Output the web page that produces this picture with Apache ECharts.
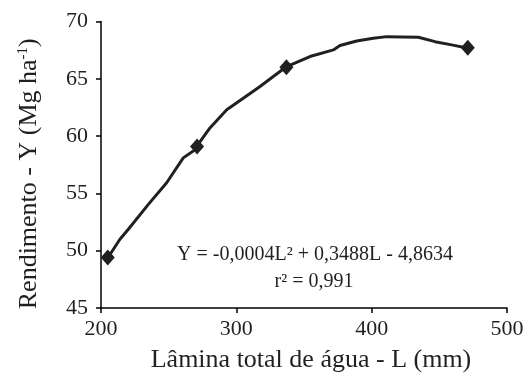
<!DOCTYPE html>
<html>
<head>
<meta charset="utf-8">
<script src="https://cdn.jsdelivr.net/npm/echarts@6/dist/echarts.min.js"></script>
<style>html,body{margin:0;padding:0;background:#fff;}#c{width:529px;height:378px;}</style>
</head>
<body>
<div id="c"></div>
<script>
// Observed points
const obsL = [205, 271, 337, 471];
const obsY = [49.4, 59.1, 66.0, 67.7];
// Fitted curve
const curveL = [204.7, 214.0, 220.2, 235.0, 248.5, 260.8, 269.5, 270.7, 280.5, 292.9, 305.1, 317.5, 327.3, 337.2, 354.4, 371.7, 376.6, 388.9, 401.2, 411.1, 434.5, 446.8, 459.1, 471.4];
const curveY = [49.32, 51.0, 51.87, 54.04, 55.93, 58.1, 58.8, 59.11, 60.71, 62.3, 63.3, 64.33, 65.2, 66.07, 66.94, 67.52, 67.9, 68.3, 68.54, 68.68, 68.63, 68.24, 67.96, 67.67];
const xTicks = [200, 300, 400, 500];
const yTicks = [45, 50, 55, 60, 65, 70];
const eqText = 'Y = -0,0004L² + 0,3488L - 4,8634';
const r2Text = 'r² = 0,991';
const xTitle = 'Lâmina total de água - L (mm)';

const FONT = '"Liberation Serif", "Times New Roman", serif';
const INK = '#231f20';
const chart = echarts.init(document.getElementById('c'), null, {renderer: 'canvas'});
const axisCommon = {
  axisLine: {show: true, lineStyle: {color: '#000', width: 1.5}},
  axisTick: {show: true, inside: false, length: 5, lineStyle: {color: '#000', width: 1.5}},
  splitLine: {show: false},
  axisLabel: {color: INK, fontFamily: FONT, fontSize: 22},
  nameTextStyle: {color: INK, fontFamily: FONT, fontSize: 26},
};
chart.setOption({
  animation: false,
  backgroundColor: '#fff',
  grid: {left: 101, right: 22, top: 21.5, bottom: 69, containLabel: false},
  xAxis: Object.assign({}, axisCommon, {
    type: 'value', min: xTicks[0], max: xTicks[xTicks.length - 1], interval: 100,
    name: xTitle, nameLocation: 'middle', nameGap: 39,
    nameTextStyle: Object.assign({}, axisCommon.nameTextStyle, {padding: [0, 0, 0, 14]}),
    axisLabel: Object.assign({}, axisCommon.axisLabel, {margin: 10})
  }),
  yAxis: Object.assign({}, axisCommon, {
    type: 'value', min: yTicks[0], max: yTicks[yTicks.length - 1], interval: 5,
    name: 'Rendimento - Y (Mg ha{sup|-1})', nameLocation: 'middle', nameGap: 59, nameRotate: 90,
    nameTextStyle: Object.assign({}, axisCommon.nameTextStyle, {
      padding: [0, 18, 0, 0],
      rich: {sup: {fontFamily: FONT, fontSize: 15, color: INK, verticalAlign: 'top', padding: [0, 0, 10, 0]}}
    }),
    axisLabel: Object.assign({}, axisCommon.axisLabel, {margin: 13})
  }),
  series: [
    {
      type: 'line', data: curveL.map((l, i) => [l, curveY[i]]),
      showSymbol: false, smooth: false,
      lineStyle: {color: INK, width: 3}, z: 2
    },
    {
      type: 'scatter', data: obsL.map((l, i) => [l, obsY[i]]),
      symbol: 'diamond', symbolSize: [14, 16],
      itemStyle: {color: INK, opacity: 1}, z: 3
    }
  ],
  graphic: [
    {type: 'text', x: 315, y: 255, style: {text: eqText, font: '20px ' + FONT, fill: INK, align: 'center', verticalAlign: 'middle'}},
    {type: 'text', x: 314, y: 282, style: {text: r2Text, font: '20px ' + FONT, fill: INK, align: 'center', verticalAlign: 'middle'}}
  ]
});
</script>
</body>
</html>
